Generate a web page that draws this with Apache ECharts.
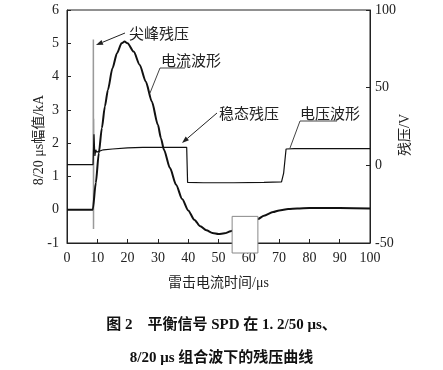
<!DOCTYPE html>
<html><head><meta charset="utf-8">
<script src="https://cdn.jsdelivr.net/npm/echarts@6/dist/echarts.min.js"></script>
<style>html,body{margin:0;padding:0;background:#fff}#c{width:443px;height:370px}</style>
</head><body><div id="c"></div>
<script>
// ---- data ----
const xTicks = [0,10,20,30,40,50,60,70,80,90,100];
const leftTicks = [-1,0,1,2,3,4,5,6];
const rightTicks = [-50,0,50,100];
// current waveform (kA) : [time µs, kA]
const currentData = [
 [0,0],[4,0],[8.5,0],[9.5,0.8],[10.5,1.7],[11.5,2.45],[12.5,3.1],[13.5,3.6],[15,4.25],[16.5,4.7],
 [18,5.0],[19,5.05],[20,5.0],[22,4.75],[24,4.35],[26,3.85],[28,3.25],[30,2.55],[31,2.15],[32,1.8],
 [34,1.25],[36,0.75],[38,0.32],[40,-0.02],[42,-0.3],[44,-0.5],[46,-0.62],[48,-0.7],[50,-0.73],
 [52,-0.71],[54,-0.65],[57,-0.52],[60,-0.4],[63,-0.28],[65,-0.18],[68,-0.07],[70,-0.02],[73,0.02],
 [76,0.04],[80,0.05],[90,0.05],[100,0.04]
];
// residual voltage (V) : [time µs, V]
const voltageData = [
 [0,0.5],[5,0.5],[8.6,0.5],[8.9,20],[9.2,6],[9.5,10],[9.8,8.5],[10.2,9],[12,10],[15,10.5],[20,11.3],
 [25,11.5],[30,11.6],[39.5,11.6],[39.8,-11],[45,-11.2],[55,-11.2],[65,-11],[70.8,-10.6],[71.5,-5],
 [72.3,10.5],[75,10.8],[100,10.8]
];
// spike residual voltage (V)
const spikeData = [[8.65,0.5],[8.7,81],[8.75,-41],[8.8,30],[8.85,8]];
// blank box region (time µs, kA)
const boxX = [54.5, 63];
const boxTopY = -0.2;

const serif = '"Liberation Serif","Noto Sans CJK SC",serif';
const chart = echarts.init(document.getElementById('c'), null, {renderer:'canvas'});
const grid = {left:67, right:73, top:10, bottom:127};
chart.setOption({
  animation:false,
  backgroundColor:'#fff',
  title:{
    text:'图 2　平衡信号 SPD 在 1. 2/50 μs、\n8/20 μs 组合波下的残压曲线',
    left:'center', top:304,
    textStyle:{fontFamily:serif, fontSize:15, fontWeight:'bold', color:'#111', lineHeight:33}
  },
  grid:Object.assign({show:true, borderColor:'#222', borderWidth:1, backgroundColor:'transparent'}, grid),
  xAxis:{
    type:'value', min:xTicks[0], max:xTicks[xTicks.length-1], interval:10,
    name:'雷击电流时间/μs', nameLocation:'middle', nameGap:33,
    nameTextStyle:{fontFamily:serif, fontSize:14, color:'#222'},
    axisLine:{onZero:false, lineStyle:{color:'#222'}},
    axisTick:{inside:true, length:4, lineStyle:{color:'#222'}},
    axisLabel:{fontFamily:serif, fontSize:14, color:'#222', margin:8},
    splitLine:{show:false}
  },
  yAxis:[{
    type:'value', min:leftTicks[0], max:leftTicks[leftTicks.length-1], interval:1,
    axisLine:{show:true, onZero:false, lineStyle:{color:'#222'}},
    axisTick:{show:true, inside:true, length:4, lineStyle:{color:'#222'}},
    axisLabel:{fontFamily:serif, fontSize:14, color:'#222', margin:8},
    splitLine:{show:false}
  },{
    type:'value', min:rightTicks[0], max:rightTicks[rightTicks.length-1], interval:50,
    position:'right',
    axisLine:{show:true, onZero:false, lineStyle:{color:'#222'}},
    axisTick:{show:true, inside:true, length:4, lineStyle:{color:'#222'}},
    axisLabel:{fontFamily:serif, fontSize:14, color:'#222', margin:5},
    splitLine:{show:false}
  }],
  series:[
    {type:'line', name:'spike', yAxisIndex:1, data:spikeData, symbol:'none',
     lineStyle:{color:'#9a9a9a', width:1.5}, z:1},
    {type:'line', name:'voltage', yAxisIndex:1, data:voltageData, symbol:'none',
     lineStyle:{color:'#111', width:1.2}, z:2},
    {type:'line', name:'current', yAxisIndex:0, data:currentData, symbol:'none', smooth:0.25, smoothMonotone:'x',
     lineStyle:{color:'#111', width:2}, z:3}
  ]
});

// annotations
function arrow(x1,y1,x2,y2){
  const dx=x2-x1, dy=y2-y1, L=Math.hypot(dx,dy), ux=dx/L, uy=dy/L;
  const hl=7, hw=2.5;
  const bx=x2-ux*hl, by=y2-uy*hl;
  return [
    {type:'line', shape:{x1:x1,y1:y1,x2:bx,y2:by}, style:{stroke:'#222', lineWidth:1}, z:20},
    {type:'polygon', shape:{points:[[x2,y2],[bx-uy*hw,by+ux*hw],[bx+uy*hw,by-ux*hw]]}, style:{fill:'#222'}, z:20}
  ];
}
function label(t,x,y){
  return {type:'text', style:{text:t, x:x, y:y, font:'15px "Noto Sans CJK SC", sans-serif', fill:'#222', textAlign:'center', textVerticalAlign:'middle'}, z:20};
}
function vlabel(t,x,y){
  return {type:'text', x:x, y:y, rotation:Math.PI/2, style:{text:t, x:0, y:0, font:'14px "Liberation Serif","Noto Sans CJK SC", serif', fill:'#222', textAlign:'center', textVerticalAlign:'middle'}, z:20};
}
function seg(x1,y1,x2,y2){
  return {type:'line', shape:{x1:x1,y1:y1,x2:x2,y2:y2}, style:{stroke:'#444', lineWidth:1}, z:20};
}
const p1 = chart.convertToPixel({xAxisIndex:0, yAxisIndex:0}, [boxX[0], boxTopY]);
const p2 = chart.convertToPixel({xAxisIndex:0, yAxisIndex:0}, [boxX[1], boxTopY]);
const g = [];
g.push({type:'rect', shape:{x:p1[0], y:p1[1], width:p2[0]-p1[0], height:253-p1[1]}, style:{fill:'#fff', stroke:'#888', lineWidth:1}, z:15});
g.push(vlabel('8/20 μs幅值/kA',39,140));
g.push(vlabel('残压/V',405,135));
g.push(label('尖峰残压',159,33));
g.push(...arrow(125,33,96,45));
g.push(label('电流波形',191,60));
g.push(seg(160,68,185,68));
g.push(seg(160,68,150,93));
g.push(label('稳态残压',249,113));
g.push(...arrow(217,113,182,143));
g.push(label('电压波形',330,113));
g.push(seg(300,121,337,121));
g.push(seg(300,121,290,148));
chart.setOption({graphic:g});
</script></body></html>
